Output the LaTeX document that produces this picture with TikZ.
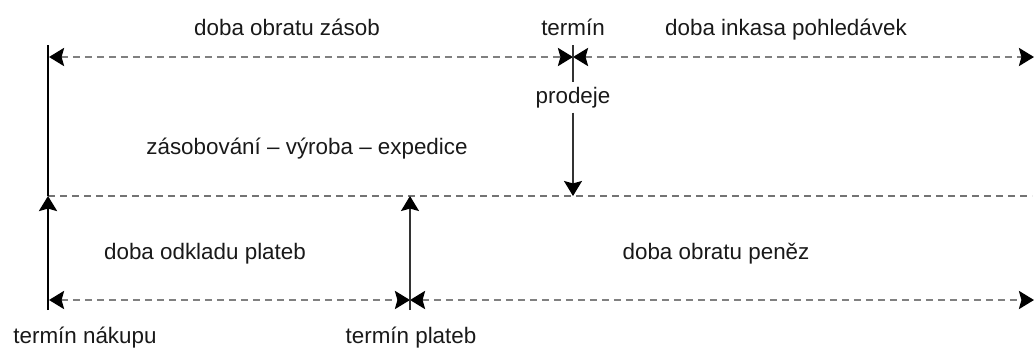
\documentclass[tikz,border=0pt]{standalone}
\usepackage{fontspec}
\setmainfont{Liberation Sans}
\usetikzlibrary{arrows.meta}
\tikzset{>={Stealth[black,length=7.5pt,width=9pt,inset=1.2pt]},
            t/.style={anchor=base,inner sep=0pt,text=black!90,font=\fontsize{11.2}{13}\selectfont},
            d/.style={line width=1.3pt,draw=black!50,dash pattern=on 3.5pt off 2.5pt,<->},
            mid/.style={line width=0.7pt,draw=black!55,dash pattern=on 3.5pt off 2.5pt},
            v/.style={line width=0.8pt,draw=black!80,->},
            thk/.style={line width=1.4pt,draw=black}}

\begin{document}
\begin{tikzpicture}[x=0.5pt,y=-0.5pt]
\useasboundingbox (0,0) rectangle (1035,349);
% texts
\node[t] at (287,35)(1){doba obratu zásob};
\node[t] at (573,35)(2){termín};
\node[t] at (786,35)(3){doba inkasa pohledávek};
\node[t,inner sep=2.3pt] at (573,103)(4){prodeje};
\node[t] at (307,154)(5){zásobování – výroba – expedice};
\node[t] at (205,259)(6){doba odkladu plateb};
\node[t] at (716,259)(7){doba obratu peněz};
\node[t] at (85,343)(8){termín nákupu};
\node[t] at (411,343)(9){termín plateb};
% points on the lines
\coordinate (a) at (48,45);
\coordinate (b) at (48,310);
\coordinate (a1) at (49,57);
\coordinate (a2) at (573,57);
\coordinate (a3) at (1034,57);
\coordinate (m1) at (48,196);
\coordinate (m2) at (410,196);
\coordinate (m3) at (573,196);
\coordinate (m4) at (1032,196);
\coordinate (b1) at (49,300);
\coordinate (b2) at (410,300);
\coordinate (b3) at (1034,300);
\coordinate (c) at (573,45);
\coordinate (e) at (410,310);
% time spans
\draw[d] (a1) -- (a2);
\draw[d] (a2) -- (a3);
\draw[d] (b1) -- (b2);
\draw[d] (b2) -- (b3);
\draw[mid] (m1) -- (m4);
% vertical marks
\draw[thk] (a) -- (m1);
\draw[thk,->] (b) -- (m1);
\draw[v] (e) -- (m2);
\draw[line width=0.8pt,draw=black!80] (c) -- (4.north);
\draw[v] (4) -- (m3);
\end{tikzpicture}
\end{document}
